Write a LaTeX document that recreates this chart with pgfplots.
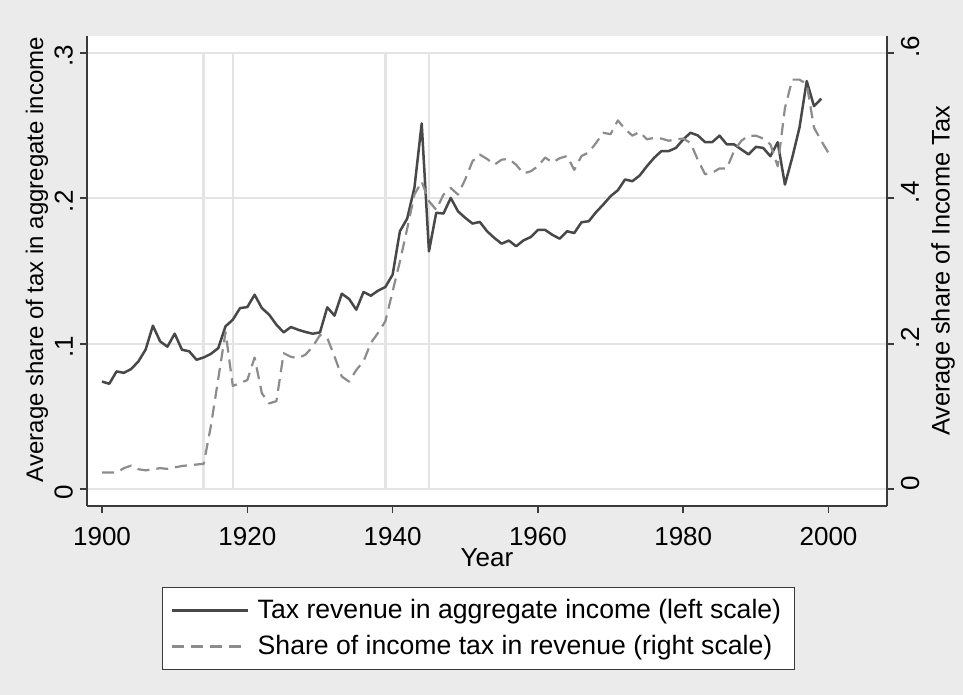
\documentclass[border=0pt]{standalone}
\usepackage{pgfplots}
\pgfplotsset{compat=1.18}
\usepackage{pgfplotstable}
\usepackage{fontspec}
\setmainfont{Liberation Sans}
\definecolor{bg}{HTML}{EBEBEB}
\definecolor{gridc}{HTML}{E4E4E4}
\definecolor{solidc}{HTML}{484848}
\definecolor{dashc}{HTML}{8C8C8C}
\definecolor{axc}{HTML}{3A3A3A}

\pgfplotstableread{
year val
1900 0.0740
1901 0.0725
1902 0.0810
1903 0.0800
1904 0.0826
1905 0.0878
1906 0.0960
1907 0.1124
1908 0.1016
1909 0.0980
1910 0.1069
1911 0.0959
1912 0.0948
1913 0.0890
1914 0.0906
1915 0.0931
1916 0.0970
1917 0.1120
1918 0.1165
1919 0.1245
1920 0.1252
1921 0.1337
1922 0.1245
1923 0.1200
1924 0.1131
1925 0.1078
1926 0.1115
1927 0.1096
1928 0.1081
1929 0.1069
1930 0.1078
1931 0.1250
1932 0.1193
1933 0.1344
1934 0.1308
1935 0.1234
1936 0.1356
1937 0.1330
1938 0.1365
1939 0.1390
1940 0.1475
1941 0.1773
1942 0.1860
1943 0.2072
1944 0.2514
1945 0.1635
1946 0.1900
1947 0.1895
1948 0.2002
1949 0.1910
1950 0.1865
1951 0.1826
1952 0.1837
1953 0.1773
1954 0.1727
1955 0.1688
1956 0.1709
1957 0.1670
1958 0.1710
1959 0.1733
1960 0.1782
1961 0.1782
1962 0.1748
1963 0.1722
1964 0.1773
1965 0.1761
1966 0.1835
1967 0.1842
1968 0.1904
1969 0.1957
1970 0.2014
1971 0.2055
1972 0.2129
1973 0.2117
1974 0.2156
1975 0.2220
1976 0.2278
1977 0.2324
1978 0.2324
1979 0.2346
1980 0.2404
1981 0.2450
1982 0.2432
1983 0.2386
1984 0.2386
1985 0.2430
1986 0.2370
1987 0.2370
1988 0.2335
1989 0.2301
1990 0.2353
1991 0.2346
1992 0.2289
1993 0.2385
1994 0.2094
1995 0.2278
1996 0.2485
1997 0.2805
1998 0.2633
1999 0.2684
}\taxrev

\pgfplotstableread{
year val
1900 0.023
1901 0.023
1902 0.023
1903 0.029
1904 0.0325
1905 0.0275
1906 0.026
1907 0.0275
1908 0.029
1909 0.028
1910 0.030
1911 0.032
1912 0.033
1913 0.034
1914 0.035
1915 0.088
1916 0.152
1917 0.216
1918 0.142
1919 0.146
1920 0.150
1921 0.181
1922 0.132
1923 0.118
1924 0.121
1925 0.187
1926 0.182
1927 0.180
1928 0.185
1929 0.196
1930 0.212
1931 0.208
1932 0.1825
1933 0.155
1934 0.148
1935 0.164
1936 0.176
1937 0.201
1938 0.215
1939 0.231
1940 0.272
1941 0.313
1942 0.358
1943 0.405
1944 0.423
1945 0.396
1946 0.384
1947 0.405
1948 0.414
1949 0.405
1950 0.426
1951 0.451
1952 0.460
1953 0.454
1954 0.446
1955 0.453
1956 0.454
1957 0.446
1958 0.434
1959 0.437
1960 0.444
1961 0.456
1962 0.449
1963 0.455
1964 0.458
1965 0.439
1966 0.458
1967 0.463
1968 0.476
1969 0.490
1970 0.488
1971 0.507
1972 0.495
1973 0.486
1974 0.491
1975 0.481
1976 0.483
1977 0.482
1978 0.479
1979 0.481
1980 0.482
1981 0.476
1982 0.453
1983 0.433
1984 0.435
1985 0.441
1986 0.441
1987 0.465
1988 0.479
1989 0.486
1990 0.486
1991 0.482
1992 0.474
1993 0.444
1994 0.524
1995 0.563
1996 0.563
1997 0.557
1998 0.497
1999 0.479
2000 0.462
}\incshare

\pgfplotsset{
  common/.style={
    at={(0pt,0pt)}, anchor=south west,
    scale only axis, width=400pt, height=235pt,
    xmin=1897.93, xmax=2008.05,
    axis line style={axc, line width=0.8pt},
    tick align=outside, major tick length=3.5pt,
    tick style={axc, line width=0.8pt},
    tick label style={font=\fontsize{13}{15}\selectfont},
    label style={font=\fontsize{13}{15}\selectfont},
    clip=true,
  }
}

\begin{document}
\begin{tikzpicture}
\fill[bg] (-43.5pt,-94.5pt) rectangle (438pt,253pt);

\begin{axis}[common,
  ymin=-0.0115, ymax=0.3115,
  axis x line*=bottom, axis y line*=left,
  axis background/.style={fill=white},
  xtick={1900,1920,1940,1960,1980,2000},
  xticklabels={1900,1920,1940,1960,1980,2000},
  x tick label style={yshift=-3.5pt},
  ytick={0,0.1,0.2,0.3}, yticklabels={0,.1,.2,.3},
  y tick label style={rotate=90, anchor=south, xshift=-1.5pt},
  ymajorgrids, grid style={gridc, line width=1pt},
  xlabel={Year},
  xlabel style={at={(axis description cs:0.5,-0.1106)}, anchor=center},
  ylabel={Average share of tax in aggregate income},
  ylabel style={at={(axis description cs:-0.0625,0.5245)}, anchor=center, rotate=0,
    font=\fontsize{12}{14}\selectfont},
]
\addplot[gridc, line width=1.3pt, forget plot] coordinates {(1914,0) (1914,0.3)};
\addplot[gridc, line width=1.3pt, forget plot] coordinates {(1918,0) (1918,0.3)};
\addplot[gridc, line width=1.3pt, forget plot] coordinates {(1939,0) (1939,0.3)};
\addplot[gridc, line width=1.3pt, forget plot] coordinates {(1945,0) (1945,0.3)};
\addplot[solidc, line width=1.25pt, line join=round] table[x=year, y=val] {\taxrev};
\end{axis}

\begin{axis}[common,
  ymin=-0.023, ymax=0.623,
  axis x line=none, axis y line*=right,
  ytick={0,0.2,0.4,0.6}, yticklabels={0,.2,.4,.6},
  y tick label style={rotate=90, anchor=north, xshift=3pt},
  ylabel={Average share of Income Tax},
  ylabel style={at={(axis description cs:1.07,0.5)}, anchor=center, rotate=0,
    font=\fontsize{12.7}{14}\selectfont},
  legend style={at={(axis description cs:0.489,-0.1723)}, anchor=north,
    draw=axc, fill=white, line width=0.6pt,
    font=\fontsize{13.3}{15}\selectfont,
    inner xsep=4.5pt, inner ysep=3.8pt, row sep=3pt,
    nodes={inner sep=2pt},
    /tikz/every odd column/.append style={column sep=2pt}},
  legend cell align=left,
  legend image code/.code={\draw[#1] (0pt,0pt) -- (38pt,0pt);},
]
\addlegendimage{solidc, line width=1.25pt}
\addlegendentry{Tax revenue in aggregate income (left scale)}
\addplot[dashc, line width=1.1pt, dash pattern=on 6pt off 3.5pt, line join=round] table[x=year, y=val] {\incshare};
\addlegendentry{Share of income tax in revenue (right scale)}
\end{axis}
\pgfresetboundingbox
\path[use as bounding box] (-43.5pt,-94.5pt) rectangle (438pt,253pt);
\end{tikzpicture}
\end{document}
